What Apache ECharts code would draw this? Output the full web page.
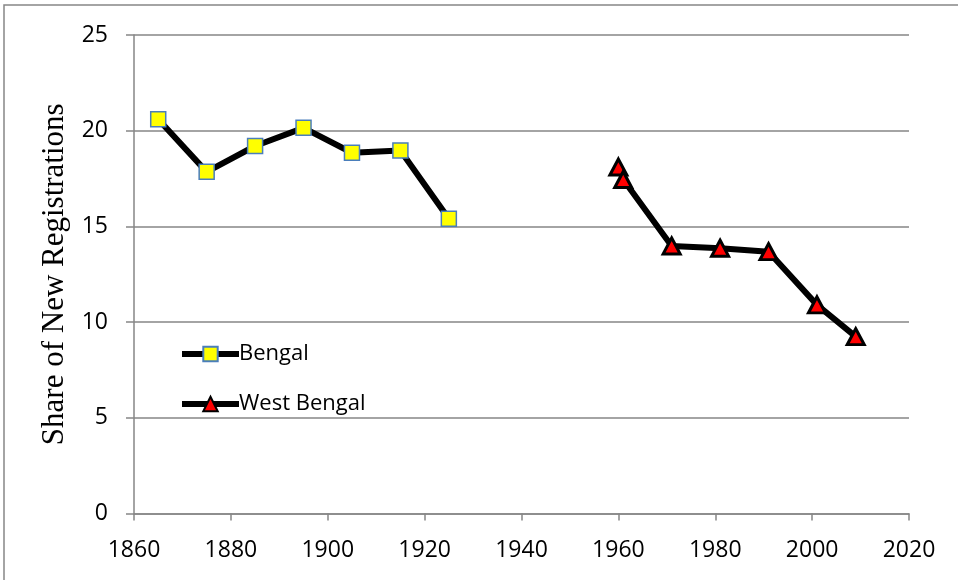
<!doctype html>
<meta charset="utf-8">
<style>
  html, body {
    margin: 0;
    height: 100%;
    background: #fff;
  }

  #chart {
    width: 958px;
    height: 580px;
  }
</style>
<script src="https://cdn.jsdelivr.net/npm/echarts@6/dist/echarts.min.js"></script>

<div id="chart"></div>

<script>
  const bengalYears = [1865, 1875, 1885, 1895, 1905, 1915, 1925]
  const bengalShare = [20.6, 17.85, 19.2, 20.15, 18.85, 18.97, 15.4]
  const westBengalYears = [1960, 1961, 1971, 1981, 1991, 2001, 2009]
  const westBengalShare = [18.1, 17.45, 13.98, 13.86, 13.68, 10.9, 9.24]

  const gridColor = '#868686'
  const tickFont = '"Open Sans", "Liberation Sans", sans-serif'
  let chart = echarts.init(document.getElementById('chart'))

  chart.setOption({
    animation: false,
    graphic: [{
      type: 'rect',
      shape: { x: 4, y: 5, width: 1200, height: 1200 },
      style: { fill: null, stroke: gridColor, lineWidth: 1.5 },
      silent: true,
    }],
    grid: {
      left: 134,
      right: 49,
      top: 35,
      bottom: 66.5,
    },
    legend: {
      orient: 'vertical',
      left: 174,
      top: 338,
      itemWidth: 57,
      itemHeight: 18,
      itemGap: 28,
      lineStyle: { width: 6, color: '#000' },
      textStyle: {
        fontFamily: tickFont,
        fontSize: 22,
        color: '#000',
        padding: [0, 0, 0, -5],
      },
      data: ['Bengal', 'West Bengal'],
    },
    xAxis: {
      type: 'value',
      min: 1860,
      max: 2020,
      interval: 20,
      axisLine: { lineStyle: { color: gridColor, width: 1.5 } },
      axisTick: { show: true, length: 7, lineStyle: { color: gridColor, width: 1.5 } },
      axisLabel: {
        margin: 25,
        color: '#000',
        fontFamily: tickFont,
        fontSize: 23,
        formatter: v => String(v),
      },
      splitLine: { show: false },
    },
    yAxis: {
      type: 'value',
      min: 0,
      max: 25,
      interval: 5,
      name: 'Share of New Registrations',
      nameLocation: 'middle',
      nameGap: 64,
      nameTextStyle: {
        fontFamily: '"Liberation Serif", "DejaVu Serif", serif',
        fontSize: 31,
        color: '#000',
      },
      axisLine: { show: true, lineStyle: { color: gridColor, width: 1.5 } },
      axisTick: { show: true, length: 8, lineStyle: { color: gridColor, width: 1.5 } },
      axisLabel: {
        margin: 26,
        color: '#000',
        fontFamily: tickFont,
        fontSize: 23,
      },
      splitLine: { lineStyle: { color: gridColor, width: 1.5 } },
    },
    series: [
      {
        name: 'Bengal',
        type: 'line',
        data: bengalYears.map((y, i) => [y, bengalShare[i]]),
        symbol: 'rect',
        symbolSize: 15,
        lineStyle: { color: '#000', width: 6 },
        itemStyle: { color: '#ffff00', borderColor: '#4a7ebb', borderWidth: 1.5 },
      },
      {
        name: 'West Bengal',
        type: 'line',
        data: westBengalYears.map((y, i) => [y, westBengalShare[i]]),
        symbol: 'triangle',
        symbolSize: [17, 16],
        lineStyle: { color: '#000', width: 6 },
        itemStyle: { color: '#ff0000', borderColor: '#000', borderWidth: 3 },
      },
    ],
  })
</script>
